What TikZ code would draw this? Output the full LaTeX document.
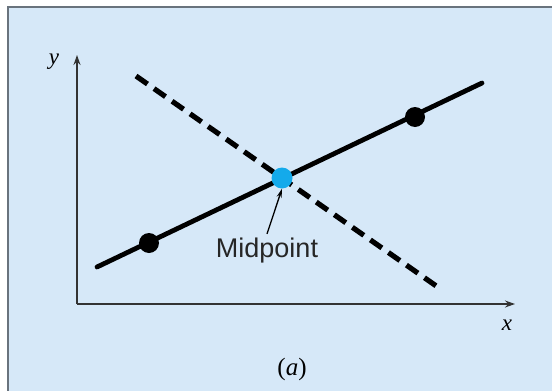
\documentclass[tikz,border=0pt]{standalone}
\usepackage{fontspec}
\setmainfont{Liberation Serif}
\newfontfamily\labelfont{Liberation Sans}
\usetikzlibrary{arrows.meta,positioning}
\definecolor{panel}{RGB}{214,232,248}
\definecolor{rim}{RGB}{105,115,125}
\definecolor{midblue}{RGB}{20,170,235}

\begin{document}
\begin{tikzpicture}[x=1pt,y=-1pt,
  axis/.style={-{Stealth[length=10pt,width=7pt]},line width=1.4pt,black!80},
  fitline/.style={line width=4.8pt,line cap=round},
  bisector/.style={line width=5.2pt,dash pattern=on 14pt off 8pt},
  dot/.style={circle,fill=black,inner sep=0pt,minimum size=20pt},
  middot/.style={circle,fill=midblue,inner sep=0pt,minimum size=21pt},
  pointer/.style={-{Stealth[length=9pt,width=5pt]},line width=1.3pt},
  axlabel/.style={font=\itshape\fontsize{23}{23}\selectfont}]
\useasboundingbox (0,0) rectangle (552,391);
% panel
\fill[white] (0,0) rectangle (552,391);
\fill[panel] (8,7) rectangle (552,391);
\draw[rim,line width=2pt] (8,391) -- (8,7) -- (552,7);
% axes
\coordinate (O) at (77,304);\coordinate (ytop) at (77,55);\coordinate (xend) at (515,304);
\draw[axis] (O) -- (ytop);\draw[axis] (O) -- (xend);
\node[axlabel] (ylab) at (54,62) {y};
\node[axlabel] (xlab) at (507,325) {x};
% lines
\coordinate (d1) at (136,76);\coordinate (d2) at (442,290);
\coordinate (s1) at (97,267);\coordinate (s2) at (482,83);
\draw[bisector] (d1) -- (d2);
\draw[fitline] (s1) -- (s2);
\node[dot] (p1) at (149,243) {};\node[dot] (p2) at (415,117) {};
\node[middot] (m) at (282,178) {};
% label
\node[font=\labelfont\fontsize{27}{27}\selectfont,text=black!85,anchor=base] (lab) at (267,257) {Midpoint};
\draw[pointer] (lab.north) -- (m.south);
\node[font=\fontsize{25}{25}\selectfont] (cap) at (292,369) {(\textit{a})};
\end{tikzpicture}
\end{document}
